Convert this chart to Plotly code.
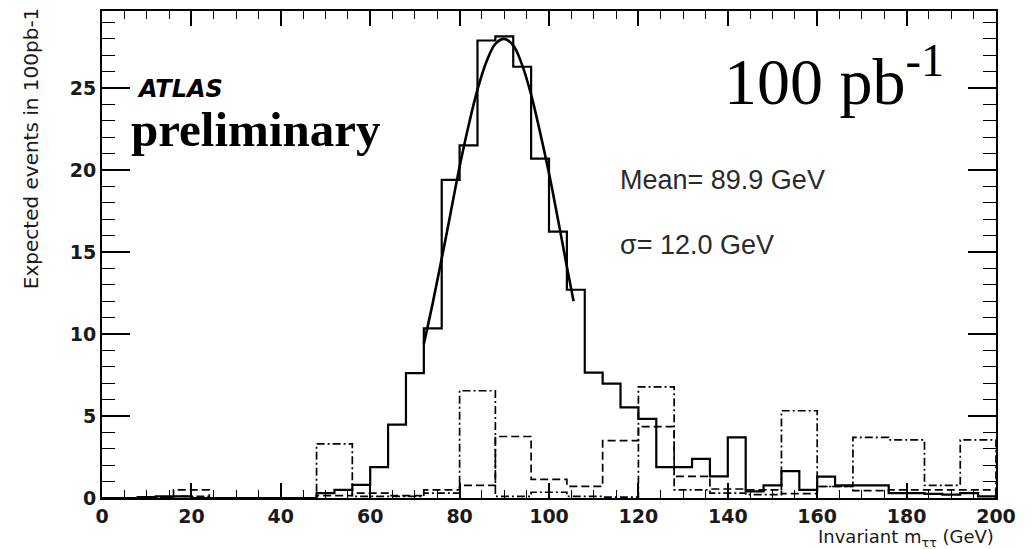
import numpy as np
import plotly.graph_objects as go

# ---- data ----
solid_bin_width = 4
solid_values = [0, 0, 0.05, 0.1, 0.1, 0, 0, 0, 0, 0, 0, 0,
                0.3, 0.5, 0.8, 1.88, 4.47, 7.61, 10.35, 19.4, 21.5, 27.9, 28.15, 26.3,
                20.7, 16.25, 12.7, 7.65, 6.98, 5.53, 4.82, 1.88, 1.88, 2.39, 1.32, 3.7,
                0.4, 0.77, 1.64, 0.5, 1.3, 0.77, 0.77, 0.77, 0.3, 0.3, 0.25, 0.2, 0.3, 0.1]

bkg_bin_width = 8
dashdot_values = [0, 0.05, 0.1, 0, 0, 0, 3.3, 0.1, 0.1, 0.3, 6.54, 0.1, 0.35,
                  0.1, 0.05, 6.78, 0.5, 0.3, 0.2, 5.32, 0.7, 3.7, 3.54, 0.77, 3.54]
dashed_values = [0, 0.05, 0.5, 0, 0, 0, 0.15, 0.3, 0.15, 0.5, 0.77, 3.75, 1.13,
                 0.71, 3.5, 4.35, 1.32, 0.55, 0.5, 0.27, 0.7, 0.45, 0.5, 0.5, 0.5]

fit_x = [72, 74, 76, 78, 80, 82, 84, 86, 88, 90, 92, 94, 96, 98, 100, 102, 104, 105.5]
fit_y = [9.4, 11.9, 14.6, 17.4, 20.2, 22.7, 24.9, 26.6, 27.7, 28.0, 27.6, 26.4,
         24.6, 22.3, 19.8, 17.0, 14.1, 12.0]

x_ticks = [0, 20, 40, 60, 80, 100, 120, 140, 160, 180, 200]
y_ticks = [0, 5, 10, 15, 20, 25]


def hist_outline(values, width):
    edges = [i * width for i in range(len(values) + 1)]
    xs = [edges[0]] + edges + [edges[-1]]
    ys = [0] + list(values) + [values[-1], 0]
    return xs, ys


fig = go.Figure()

xs, ys = hist_outline(dashed_values, bkg_bin_width)
fig.add_trace(go.Scatter(x=xs, y=ys, mode="lines", line=dict(shape="hv", color="black", width=1.7, dash="8px,4px")))

xs, ys = hist_outline(dashdot_values, bkg_bin_width)
fig.add_trace(go.Scatter(x=xs, y=ys, mode="lines", line=dict(shape="hv", color="black", width=1.7, dash="8px,3px,2px,3px")))

xs, ys = hist_outline(solid_values, solid_bin_width)
fig.add_trace(go.Scatter(x=xs, y=ys, mode="lines", line=dict(shape="hv", color="black", width=2.2)))

fig.add_trace(go.Scatter(x=fit_x, y=fit_y, mode="lines", line=dict(shape="spline", color="black", width=2.6)))

tickfont = dict(family="DejaVu Sans, sans-serif", size=19, color="#1a1a1a", weight="bold")

fig.update_xaxes(range=[0, 200], tickvals=x_ticks, ticks="inside", ticklen=15, tickwidth=1.6,
                 tickcolor="black", showline=True, linecolor="black", linewidth=2, mirror="ticks",
                 showgrid=False, zeroline=False, tickfont=tickfont,
                 minor=dict(dtick=5, tick0=0, ticks="inside", ticklen=8, tickwidth=1.4, tickcolor="black", showgrid=False))
fig.update_yaxes(range=[0, 29.7], tickvals=y_ticks, ticks="inside", ticklen=28, tickwidth=1.6,
                 tickcolor="black", showline=True, linecolor="black", linewidth=2, mirror="ticks",
                 showgrid=False, zeroline=False, tickfont=tickfont,
                 minor=dict(dtick=1, tick0=0, ticks="inside", ticklen=13, tickwidth=1.4, tickcolor="black", showgrid=False))

ann = []
ann.append(dict(text="Expected events in 100pb-1", xref="paper", yref="paper", x=-0.0794, y=1.012,
                xanchor="center", yanchor="top", textangle=-90, showarrow=False,
                font=dict(family="DejaVu Sans, sans-serif", size=20, color="#1a1a1a")))
ann.append(dict(text="Invariant m<sub>ττ</sub> (GeV)", xref="paper", yref="paper", x=1.0, y=-0.0815,
                xanchor="right", yanchor="middle", showarrow=False,
                font=dict(family="DejaVu Sans, sans-serif", size=18, color="#1a1a1a")))
ann.append(dict(text="<b><i>ATLAS</i></b>", xref="x", yref="y", x=7.4, y=24.95,
                xanchor="left", yanchor="middle", showarrow=False,
                font=dict(family="DejaVu Sans, sans-serif", size=24, color="black")))
ann.append(dict(text="<b>preliminary</b>", xref="x", yref="y", x=6.0, y=22.5,
                xanchor="left", yanchor="middle", showarrow=False,
                font=dict(family="Liberation Serif, Times New Roman, serif", size=49, color="black")))
ann.append(dict(text="100 pb<sup>-1</sup>", xref="x", yref="y", x=138.7, y=25.7,
                xanchor="left", yanchor="middle", showarrow=False,
                font=dict(family="Liberation Serif, Times New Roman, serif", size=66, color="black")))
ann.append(dict(text="Mean= 89.9 GeV", xref="x", yref="y", x=115.5, y=19.4,
                xanchor="left", yanchor="middle", showarrow=False,
                font=dict(family="Liberation Sans, Arial, sans-serif", size=27, color="#2a2a2a")))
ann.append(dict(text="σ= 12.0 GeV", xref="x", yref="y", x=115.5, y=15.4,
                xanchor="left", yanchor="middle", showarrow=False,
                font=dict(family="Liberation Sans, Arial, sans-serif", size=27, color="#2a2a2a")))

fig.update_layout(width=1032, height=549, margin=dict(l=102, r=36, t=9, b=51, pad=0),
                  plot_bgcolor="white", paper_bgcolor="white", showlegend=False,
                  annotations=ann)

fig.write_html("out.html")
